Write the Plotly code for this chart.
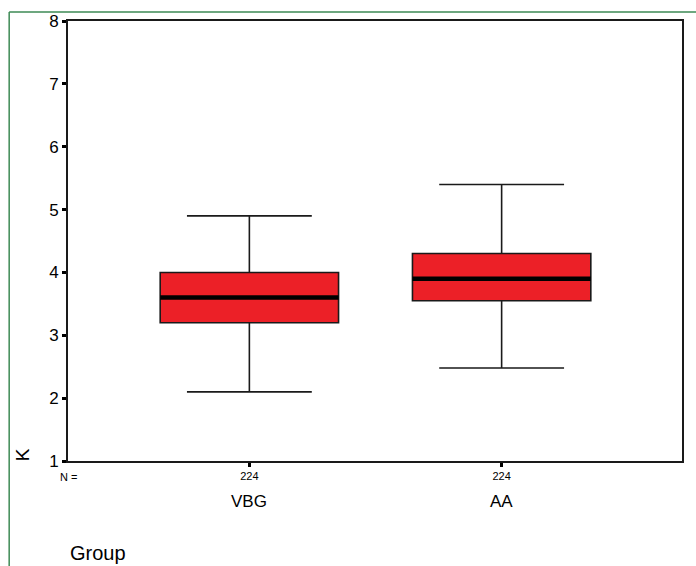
import plotly.graph_objects as go

categories = ["VBG", "AA"]
n_counts = [224, 224]
lower_whisker = [2.1, 2.48]
q1_vals = [3.2, 3.55]
median_vals = [3.6, 3.9]
q3_vals = [4.0, 4.3]
upper_whisker = [4.9, 5.4]
y_ticks = [1, 2, 3, 4, 5, 6, 7, 8]

positions = [1, 2]
box_w = 0.707

fig = go.Figure()
fig.add_trace(go.Box(
    x=positions, q1=q1_vals, median=median_vals, q3=q3_vals,
    lowerfence=lower_whisker, upperfence=upper_whisker,
    width=box_w, whiskerwidth=0.70,
    fillcolor="#ec2027", line=dict(color="#1a1a1a", width=1.6),
    boxpoints=False, showlegend=False, hoverinfo="skip",
))
for p, m in zip(positions, median_vals):
    fig.add_trace(go.Scatter(
        x=[p - box_w / 2, p + box_w / 2], y=[m, m], mode="lines",
        line=dict(color="black", width=4.5), showlegend=False, hoverinfo="skip",
    ))

fig.update_layout(
    width=696, height=566,
    margin=dict(l=68, r=12, t=18, b=105),
    paper_bgcolor="white", plot_bgcolor="white",
    font=dict(family="Liberation Sans, Arial, sans-serif", color="black"),
    xaxis=dict(range=[0.281, 2.715], tickvals=positions,
               ticktext=[str(n) for n in n_counts],
               tickfont=dict(size=11), ticks="outside", ticklen=4, tickwidth=3,
               tickcolor="black", showgrid=False, zeroline=False,
               showline=True, linecolor="#1a1a1a", linewidth=2, mirror=True),
    yaxis=dict(range=[1, 8], tickvals=y_ticks, tickfont=dict(size=17),
               ticks="outside", ticklen=4, tickwidth=3, tickcolor="black",
               showgrid=False, zeroline=False,
               showline=True, linecolor="#1a1a1a", linewidth=2, mirror=True),
)

annotations = [
    dict(text="N =", x=-0.016, y=-0.036, xref="paper", yref="paper",
         showarrow=False, font=dict(size=11), xanchor="left", yanchor="middle"),
    dict(text="K", x=-0.075, y=0.015, xref="paper", yref="paper", textangle=-90,
         showarrow=False, font=dict(size=19), xanchor="center", yanchor="middle"),
    dict(text="Group", x=0.0, y=-0.209, xref="paper", yref="paper",
         showarrow=False, font=dict(size=20), xanchor="left", yanchor="middle"),
]
for p, c in zip(positions, categories):
    annotations.append(dict(text=c, x=p, y=-0.093, xref="x", yref="paper",
                            showarrow=False, font=dict(size=17),
                            xanchor="center", yanchor="middle"))
fig.update_layout(annotations=annotations)

green = "#3d8a55"
fig.add_shape(type="line", xref="paper", yref="paper", x0=-0.0958, x1=1.03,
              y0=1.0203, y1=1.0203, line=dict(color=green, width=1.5))
fig.add_shape(type="line", xref="paper", yref="paper", x0=-0.0958, x1=-0.0958,
              y0=1.0203, y1=-0.25, line=dict(color=green, width=1.5))

fig.write_html("out.html", config={"displayModeBar": False},
               post_script="document.body.style.margin='0';document.body.style.overflow='hidden';")
